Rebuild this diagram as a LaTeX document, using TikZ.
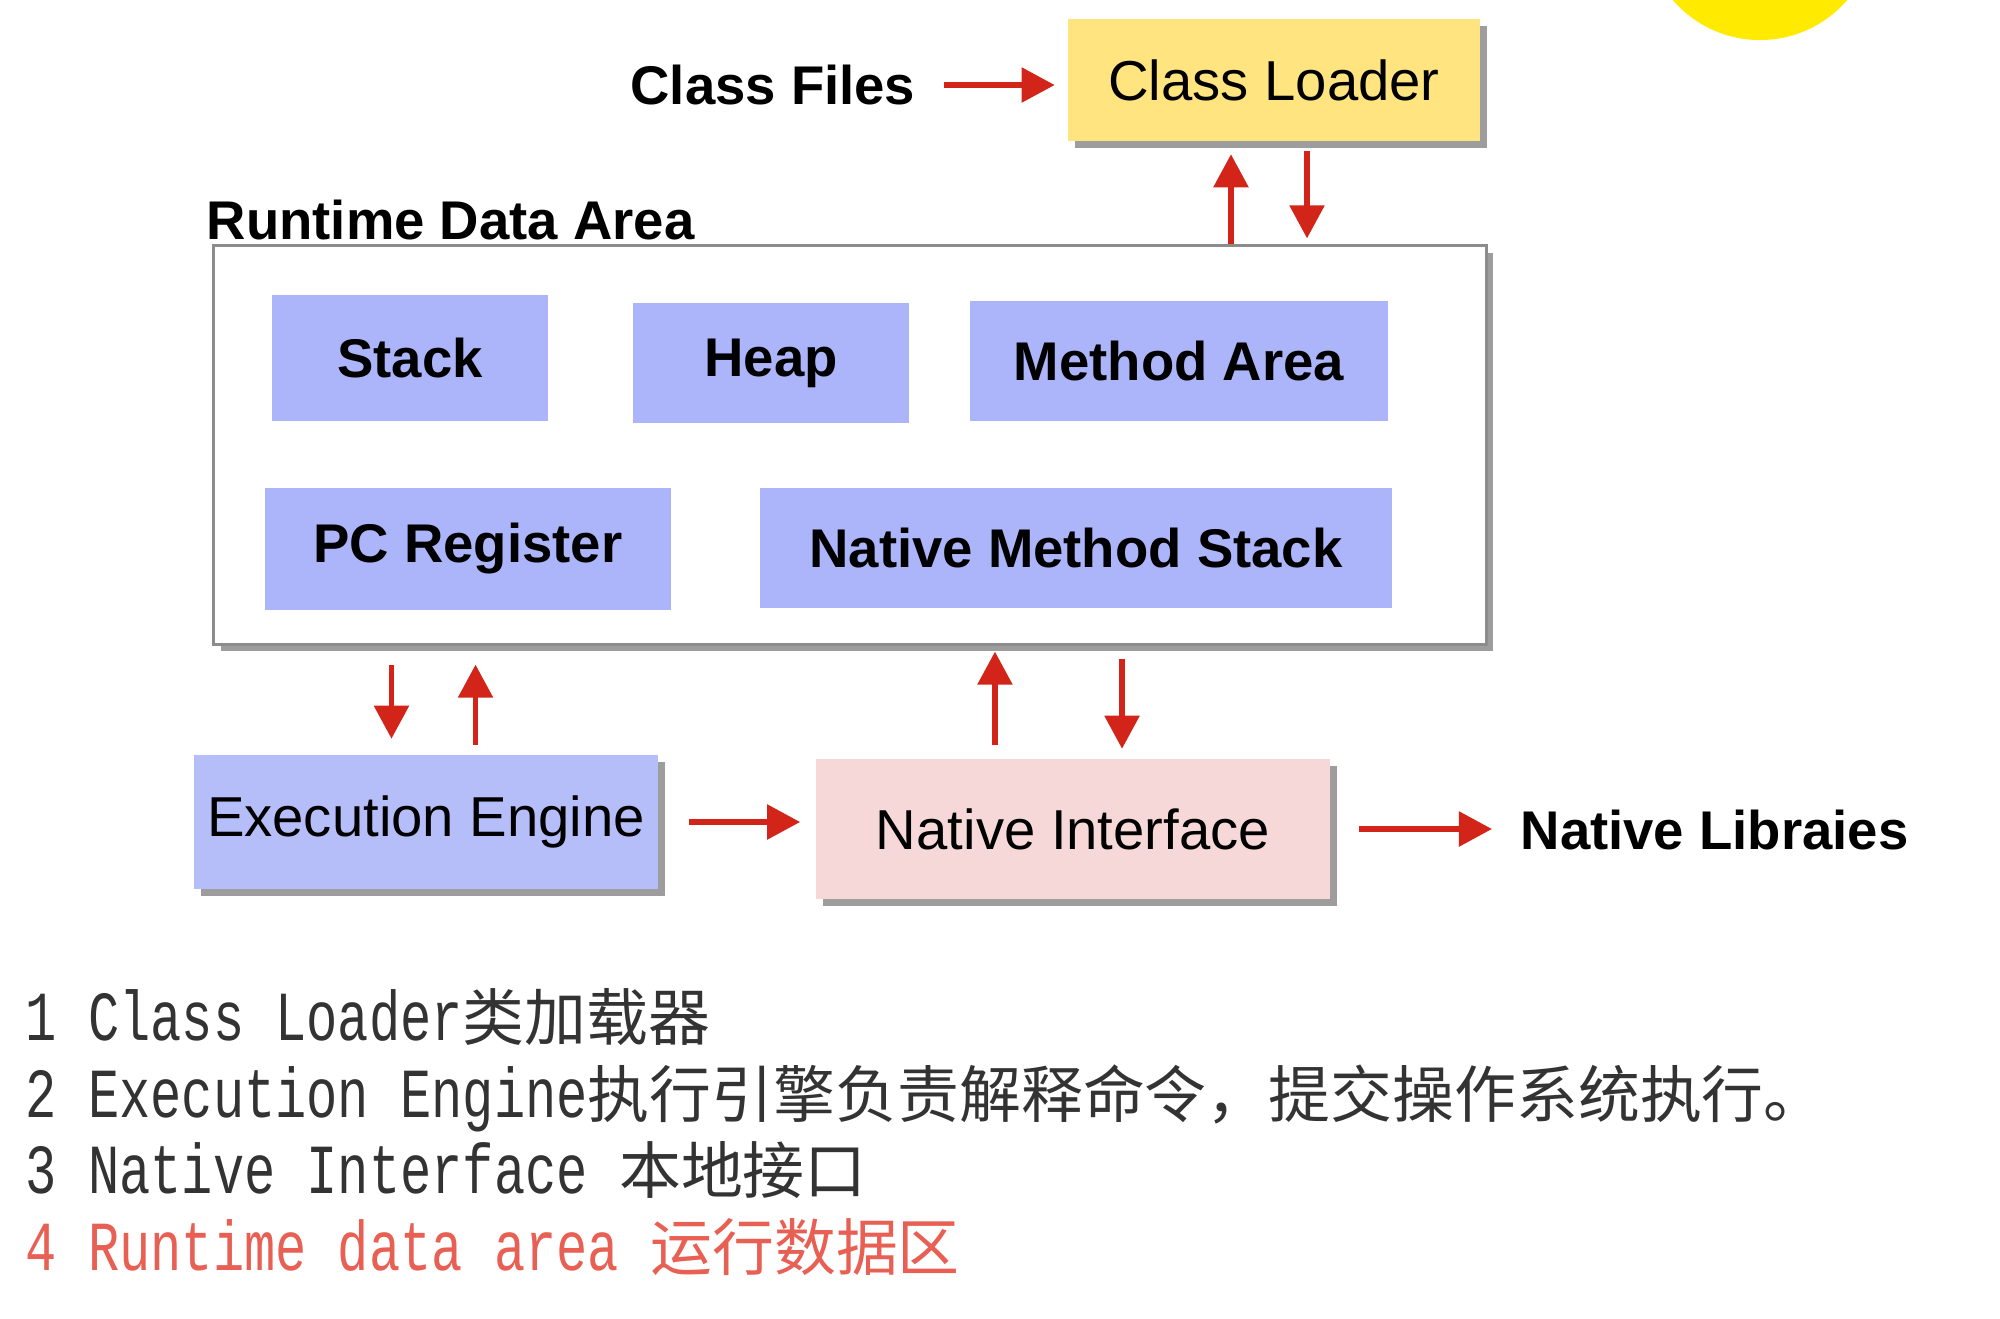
\documentclass[tikz,border=0pt]{standalone}
\usepackage{fontspec}
\setmainfont{Liberation Sans}
\newfontfamily\cjkfont{Noto Sans CJK SC}
\newfontfamily\listfont[FakeStretch=0.74]{Liberation Mono}
\usetikzlibrary{arrows.meta, positioning, shadows}
\definecolor{LoaderColor}{RGB}{255, 228, 128}
\definecolor{AreaColor}{RGB}{172, 180, 250}
\definecolor{EngineColor}{RGB}{182, 190, 250}
\definecolor{InterfaceColor}{RGB}{246, 216, 216}
\definecolor{ArrowColor}{RGB}{210, 36, 24}
\definecolor{NoteColor}{RGB}{232, 96, 84}
\definecolor{SunColor}{RGB}{255, 234, 0}
\newcommand{\notelatin}[1]{{\fontsize{20}{24}\selectfont\listfont #1}}
\newcommand{\notecjk}[1]{{\fontsize{17.6}{24}\selectfont\cjkfont #1}}

\begin{document}
\begin{tikzpicture}[
    x=0.01cm, y=-0.01cm, % one unit is one pixel of the 2000x1318 sketch
    >={Triangle[length=0.33cm, width=0.34cm]},
    tag/.style={inner sep=0pt, font=\fontsize{15.5}{18}\selectfont\bfseries},
    part/.style={fill=AreaColor, inner sep=0pt, font=\fontsize{15.5}{18}\selectfont\bfseries},
    unit/.style={inner sep=0pt, font=\fontsize{16}{19}\selectfont,
        drop shadow={shadow xshift=0.07cm, shadow yshift=-0.07cm, fill=black!55, opacity=0.7}},
    flow/.style={->, ArrowColor, line width=0.055cm},
    note/.style={anchor=base west, inner sep=0pt, text=black!80}
]
\useasboundingbox (0,0) rectangle (2000,1318);

% --- Sun in the corner ---
\begin{scope}
\clip (0,0) rectangle (2000,1318);
\fill[SunColor] (1760,-75) circle (1.15cm);
\end{scope}

% --- Class loading ---
\node[unit, fill=LoaderColor, minimum width=4.11cm, minimum height=1.21cm] (loader) at (1274,80) {Class Loader};
\node[tag, anchor=east] (files) at (916,85) {Class Files};

% --- Runtime data area and its parts ---
\node[draw=black!45, line width=0.03cm, fill=white, minimum width=12.72cm, minimum height=3.98cm,
    drop shadow={shadow xshift=0.07cm, shadow yshift=-0.07cm, fill=black!55, opacity=0.7}] (rda) at (850,445) {};
\node[tag, anchor=south west, xshift=-0.06cm, yshift=0.04cm] (rdatitle) at (rda.north west) {Runtime Data Area};

\node[part, minimum width=2.75cm, minimum height=1.25cm] (stack) at (410,358) {Stack};
\node[part, minimum width=2.75cm, minimum height=1.19cm] (heap) at (771,363) {Heap};
\node[part, minimum width=4.17cm, minimum height=1.2cm] (method) at (1179,361) {Method Area};
\node[part, minimum width=4.06cm, minimum height=1.21cm] (pc) at (468,549) {PC Register};
\node[part, minimum width=6.32cm, minimum height=1.19cm] (nativestack) at (1076,548) {Native Method Stack};

% --- Engine and native side ---
\node[unit, fill=EngineColor, minimum width=4.63cm, minimum height=1.33cm] (engine) at (426,822) {Execution Engine};
\node[unit, fill=InterfaceColor, minimum width=5.14cm, minimum height=1.39cm] (native) at (1073,829) {Native Interface};
\node[tag, anchor=west] (libs) at (1520,830) {Native Libraies};

% --- Connectors ---
\draw[flow, shorten <=0.28cm, shorten >=0.13cm] (files.east) -- (files.east -| loader.west);
\draw[flow, shorten >=0.13cm] ([xshift=-0.43cm]loader.south |- rda.north) -- ([xshift=-0.43cm]loader.south);
\draw[flow, shorten <=0.1cm, shorten >=0.06cm] ([xshift=0.33cm]loader.south) -- ([xshift=0.33cm]loader.south |- rda.north);

\draw[flow, shorten <=0.19cm, shorten >=0.16cm] ([xshift=-0.345cm]engine.north |- rda.south) -- ([xshift=-0.345cm]engine.north);
\draw[flow, shorten <=0.1cm, shorten >=0.19cm] ([xshift=0.495cm]engine.north) -- ([xshift=0.495cm]engine.north |- rda.south);

\draw[flow, shorten <=0.14cm, shorten >=0.06cm] ([xshift=-0.78cm]native.north) -- ([xshift=-0.78cm]native.north |- rda.south);
\draw[flow, shorten <=0.13cm, shorten >=0.1cm] ([xshift=0.49cm]native.north |- rda.south) -- ([xshift=0.49cm]native.north);

\draw[flow, shorten <=0.31cm, shorten >=0.15cm] (engine.east) -- (engine.east -| native.west);
\draw[flow, shorten <=0.28cm, shorten >=0.28cm] (native.east) -- (native.east -| libs.west);

% --- Notes below ---
\node[note] (note1) at (25,1040) {\notelatin{1 Class Loader}\notecjk{类加载器}};
\node[note] (note2) at (25,1117) {\notelatin{2 Execution Engine}\notecjk{执行引擎负责解释命令，提交操作系统执行。}};
\node[note] (note3) at (25,1193) {\notelatin{3 Native Interface }\notecjk{本地接口}};
\node[note, text=NoteColor] (note4) at (25,1270) {\notelatin{4 Runtime data area }\notecjk{运行数据区}};
\end{tikzpicture}
\end{document}
